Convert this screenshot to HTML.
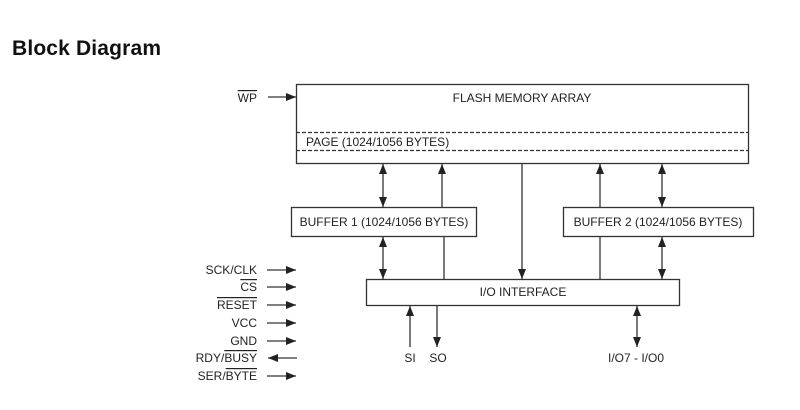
<!DOCTYPE html>
<html><head><style>
html,body{margin:0;padding:0;background:#fff;width:800px;height:410px;overflow:hidden}
text{font-family:"Liberation Sans",Arial,sans-serif;fill:#222}
</style></head><body>
<svg width="800" height="410" xmlns="http://www.w3.org/2000/svg">
<defs>
<marker id="a" markerWidth="10" markerHeight="8" refX="10" refY="4" orient="auto-start-reverse" markerUnits="userSpaceOnUse"><path d="M0,0 L10,4 L0,8 z" fill="#222"/></marker>
</defs>
<text x="12" y="55" font-size="21" font-weight="bold" style="fill:#111" textLength="149">Block Diagram</text>
<g stroke="#333" stroke-width="1.3" fill="none">
<rect x="296.5" y="84.5" width="452" height="79"/>
<line x1="296" y1="132.5" x2="749" y2="132.5" stroke-dasharray="4,2"/>
<line x1="296" y1="150.5" x2="749" y2="150.5" stroke-dasharray="4,2"/>
<rect x="291.5" y="207.5" width="185" height="29"/>
<rect x="563.5" y="207.5" width="190" height="29"/>
<rect x="366.5" y="279.5" width="313" height="26"/>
<line x1="383" y1="164" x2="383" y2="207" marker-start="url(#a)" marker-end="url(#a)"/>
<line x1="442" y1="207" x2="442" y2="164" marker-end="url(#a)"/>
<line x1="522" y1="164" x2="522" y2="279" marker-end="url(#a)"/>
<line x1="600" y1="207" x2="600" y2="164" marker-end="url(#a)"/>
<line x1="662" y1="164" x2="662" y2="207" marker-start="url(#a)" marker-end="url(#a)"/>
<line x1="383" y1="237" x2="383" y2="279" marker-start="url(#a)" marker-end="url(#a)"/>
<line x1="444" y1="237" x2="444" y2="279"/>
<line x1="600" y1="237" x2="600" y2="279"/>
<line x1="662" y1="237" x2="662" y2="279" marker-start="url(#a)" marker-end="url(#a)"/>
<line x1="410" y1="347" x2="410" y2="306" marker-end="url(#a)"/>
<line x1="437" y1="306" x2="437" y2="347" marker-end="url(#a)"/>
<line x1="637" y1="306" x2="637" y2="347" marker-start="url(#a)" marker-end="url(#a)"/>
<line x1="268" y1="97" x2="296" y2="97" marker-end="url(#a)"/>
<line x1="267" y1="270" x2="296" y2="270" marker-end="url(#a)"/>
<line x1="267" y1="287" x2="296" y2="287" marker-end="url(#a)"/>
<line x1="267" y1="305" x2="296" y2="305" marker-end="url(#a)"/>
<line x1="267" y1="323" x2="296" y2="323" marker-end="url(#a)"/>
<line x1="267" y1="341" x2="296" y2="341" marker-end="url(#a)"/>
<line x1="268" y1="358" x2="297" y2="358" marker-start="url(#a)"/>
<line x1="267" y1="376" x2="296" y2="376" marker-end="url(#a)"/>
</g>
<g font-size="12">
<text x="522" y="102" text-anchor="middle">FLASH MEMORY ARRAY</text>
<text x="306" y="146">PAGE (1024/1056 BYTES)</text>
<text x="384" y="226" text-anchor="middle">BUFFER 1 (1024/1056 BYTES)</text>
<text x="658" y="226" text-anchor="middle">BUFFER 2 (1024/1056 BYTES)</text>
<text x="523" y="296" text-anchor="middle">I/O INTERFACE</text>
<text x="410" y="362" text-anchor="middle">SI</text>
<text x="438" y="362" text-anchor="middle">SO</text>
<text x="636" y="362" text-anchor="middle">I/O7 - I/O0</text>
<text x="257" y="102" text-anchor="end" style="text-decoration:overline">WP</text>
<text x="257" y="274" text-anchor="end">SCK/CLK</text>
<text x="257" y="291" text-anchor="end" style="text-decoration:overline">CS</text>
<text x="257" y="309" text-anchor="end" style="text-decoration:overline">RESET</text>
<text x="257" y="327" text-anchor="end">VCC</text>
<text x="257" y="345" text-anchor="end">GND</text>
<text x="257" y="362" text-anchor="end">RDY/<tspan style="text-decoration:overline">BUSY</tspan></text>
<text x="257" y="380" text-anchor="end">SER/<tspan style="text-decoration:overline">BYTE</tspan></text>
</g>
</svg>
</body></html>
